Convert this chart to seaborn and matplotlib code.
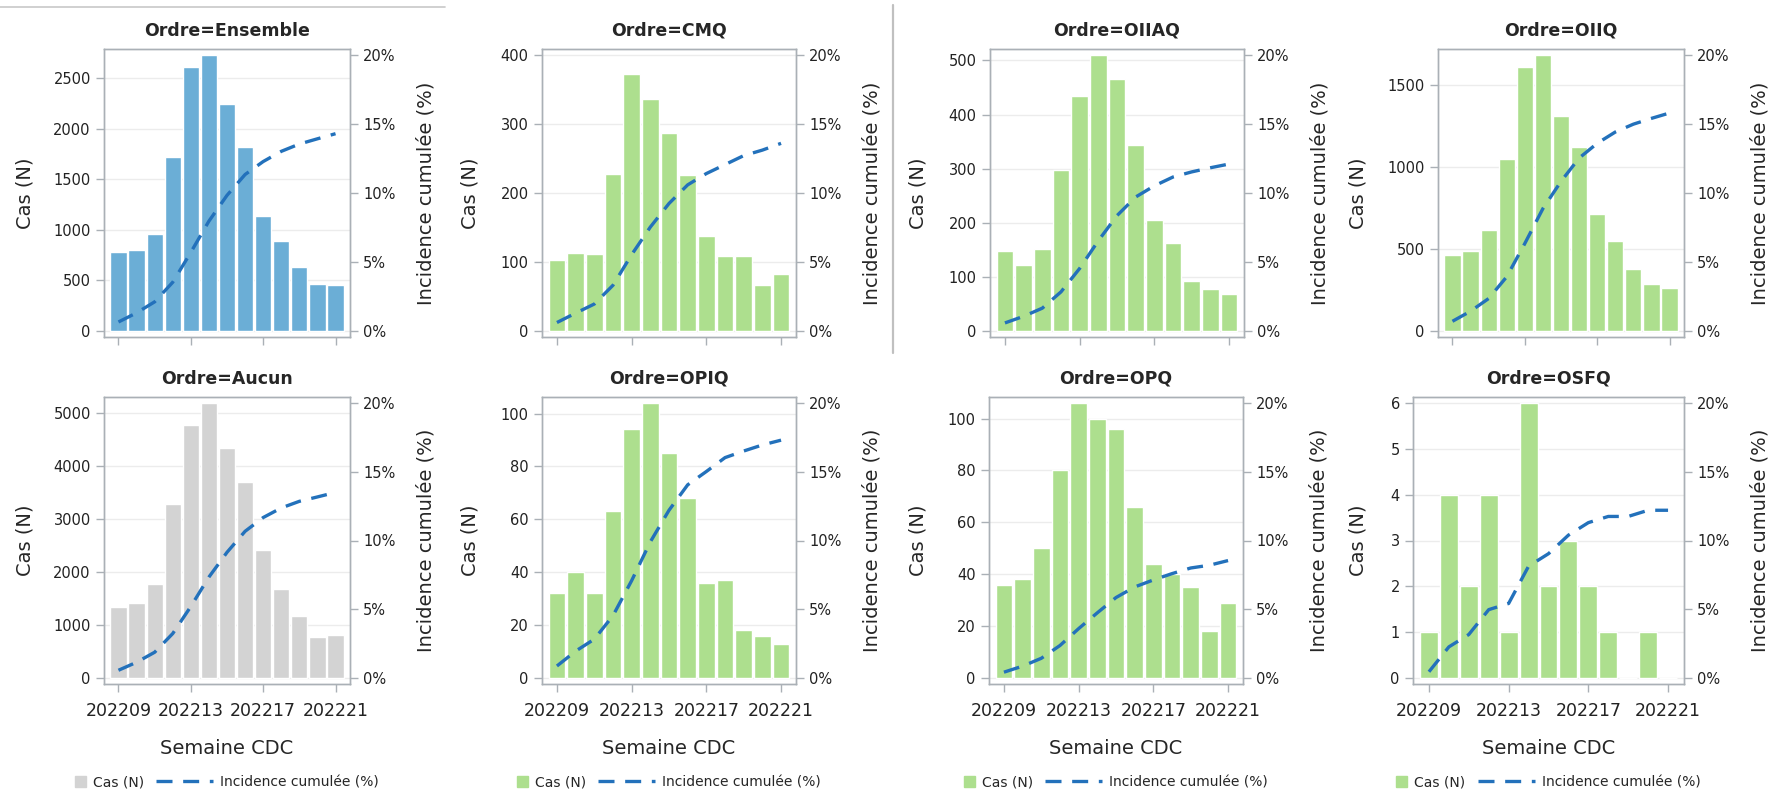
import numpy as np
import matplotlib
matplotlib.use("Agg")
import matplotlib.pyplot as plt
import matplotlib.patches as mpatches
from matplotlib.lines import Line2D
from matplotlib.legend_handler import HandlerPatch
from matplotlib.ticker import MultipleLocator, FuncFormatter
import seaborn as sns

# Data
weeks = ["202209", "202210", "202211", "202212", "202213", "202214", "202215",
         "202216", "202217", "202218", "202219", "202220", "202221"]
ordres = ["Ensemble", "CMQ", "OIIAQ", "OIIQ", "Aucun", "OPIQ", "OPQ", "OSFQ"]

cas_ensemble = [780, 800, 960, 1720, 2610, 2730, 2250, 1820, 1140, 890, 630, 460, 450]
inc_ensemble = [0.65, 1.31, 2.11, 3.53, 5.70, 7.96, 9.83, 11.34, 12.28, 13.02, 13.55, 13.93, 14.3]
cas_cmq = [103, 113, 111, 228, 373, 336, 287, 226, 138, 109, 108, 67, 83]
inc_cmq = [0.61, 1.29, 1.95, 3.31, 5.53, 7.53, 9.24, 10.59, 11.41, 12.06, 12.71, 13.11, 13.6]
cas_oiiaq = [148, 122, 151, 298, 434, 510, 465, 343, 206, 163, 93, 77, 68]
inc_oiiaq = [0.58, 1.06, 1.65, 2.83, 4.53, 6.54, 8.36, 9.71, 10.52, 11.16, 11.53, 11.83, 12.1]
cas_oiiq = [462, 487, 612, 1047, 1605, 1680, 1310, 1118, 715, 545, 375, 283, 260]
inc_oiiq = [0.70, 1.43, 2.35, 3.93, 6.34, 8.87, 10.84, 12.53, 13.60, 14.42, 14.99, 15.41, 15.8]
cas_aucun = [1345, 1410, 1770, 3270, 4760, 5180, 4340, 3700, 2410, 1680, 1160, 770, 810]
inc_aucun = [0.56, 1.14, 1.87, 3.23, 5.20, 7.34, 9.14, 10.67, 11.67, 12.37, 12.85, 13.17, 13.5]
cas_opiq = [32, 40, 32, 63, 94, 104, 85, 68, 36, 37, 18, 16, 13]
inc_opiq = [0.87, 1.95, 2.82, 4.53, 7.08, 9.90, 12.20, 14.05, 15.02, 16.03, 16.51, 16.95, 17.3]
cas_opq = [36, 38, 50, 80, 106, 100, 96, 66, 44, 40, 35, 18, 29]
inc_opq = [0.42, 0.86, 1.43, 2.36, 3.59, 4.74, 5.85, 6.62, 7.13, 7.59, 8.0, 8.2, 8.54]
cas_osfq = [1, 4, 2, 4, 1, 6, 2, 3, 2, 1, 0, 1, 0]
inc_osfq = [0.45, 2.26, 3.16, 4.97, 5.42, 8.13, 9.04, 10.39, 11.3, 11.75, 11.75, 12.2, 12.2]

cas = [cas_ensemble, cas_cmq, cas_oiiaq, cas_oiiq, cas_aucun, cas_opiq, cas_opq, cas_osfq]
inc = [inc_ensemble, inc_cmq, inc_oiiaq, inc_oiiq, inc_aucun, inc_opiq, inc_opq, inc_osfq]
y_top = [2730, 400, 510, 1680, 5180, 104, 106, 6]
y_step = [500, 100, 100, 500, 1000, 20, 20, 1]

# Styling
blue = "#6baed6"
green = "#addf8e"
grey = "#d3d3d3"
bar_colors = [blue, green, green, green, grey, green, green, green]
line_color = "#2371bb"
frame_color = "#aab0b6"
dash = (4.8, 3.2)

sns.set_style("white")
plt.rcParams["font.family"] = ["DejaVu Sans"]

W, H = 1786, 793
fig = plt.figure(figsize=(W / 100, H / 100), dpi=100)

# panel frames in pixels (left, right) per row, and (top, bottom) per row
cols_px = [[(104, 350), (542, 796), (990, 1244), (1438, 1684)],
           [(104, 350), (542, 796), (989, 1243), (1413, 1684)]]
rows_px = [(49, 337), (397, 684)]
ylab_x = [25, 470, 918, 1358]


def square_patch(legend, orig_handle, xdescent, ydescent, width, height, fontsize):
    s = height * 1.15
    return mpatches.Rectangle((-xdescent + width - s, -ydescent + (height - s) / 2), s, s)


for i, name in enumerate(ordres):
    row, col = divmod(i, 4)
    x0, x1 = cols_px[row][col]
    yt, yb = rows_px[row]
    ax = fig.add_axes([x0 / W, 1 - yb / H, (x1 - x0) / W, (yb - yt) / H])

    sns.barplot(x=weeks, y=cas[i], color=bar_colors[i], saturation=1, width=0.9, ax=ax)
    ax.set_xlim(-0.8, 12.8)
    ax.set_ylim(-0.022 * y_top[i], 1.022 * y_top[i])
    ax.yaxis.set_major_locator(MultipleLocator(y_step[i]))
    ax.grid(axis="y", color="#ececec", lw=1)
    ax.grid(axis="x", visible=False)
    ax.set_axisbelow(True)
    ax.set_xticks([0, 4, 8, 12])
    ax.set_xticklabels([weeks[0], weeks[4], weeks[8], weeks[12]])

    ax2 = ax.twinx()
    sns.lineplot(x=np.arange(len(weeks)), y=inc[i], ax=ax2, color=line_color, lw=2.4)
    ax2.get_lines()[0].set_dashes(dash)
    ax2.set_ylim(-0.44, 20.44)
    ax2.set_yticks([0, 5, 10, 15, 20])
    ax2.yaxis.set_major_formatter(FuncFormatter(lambda v, p: f"{v:.0f}%"))
    ax2.set_xlim(-0.8, 12.8)

    for a in (ax, ax2):
        for sp in a.spines.values():
            sp.set_color(frame_color)
            sp.set_linewidth(1)
    ax.tick_params(axis="y", left=True, direction="out", length=6, width=1,
                   color=frame_color, labelsize=10.5, labelcolor="#222222")
    ax.tick_params(axis="x", bottom=True, direction="out", length=6, width=1,
                   color=frame_color, labelsize=12.5, labelcolor="#222222", pad=7,
                   labelbottom=(row == 1))
    ax2.tick_params(axis="y", right=True, direction="out", length=6, width=1,
                    color=frame_color, labelsize=10.5, labelcolor="#222222")

    ax.set_title(f"Ordre={name}", fontsize=12.5, fontweight="bold", pad=9.5)

    ax.set_ylabel("Cas (N)", fontsize=14)
    ax.yaxis.set_label_coords((ylab_x[col] - x0) / (x1 - x0), 0.5)
    ax.yaxis.label.set_va("center")
    ax2.set_ylabel("Incidence cumulée (%)", fontsize=14)
    ax2.yaxis.set_label_coords(1 + 76 / (x1 - x0), 0.5)
    ax2.yaxis.label.set_va("center")

    if row == 1:
        ax.set_xlabel("Semaine CDC", fontsize=14)
        ax.xaxis.set_label_coords(0.5, -(748 - yb) / (yb - yt))
        ax.xaxis.label.set_va("center")
        handles = [mpatches.Patch(color=bar_colors[i], label="Cas (N)"),
                   Line2D([], [], color=line_color, lw=2.4, dashes=dash,
                          label="Incidence cumulée (%)")]
        fig.legend(handles=handles, loc="center", ncol=2, frameon=False,
                   fontsize=10, handlelength=4.1, columnspacing=0.9, handletextpad=0.5,
                   bbox_to_anchor=(((x0 + x1) / 2 - 23) / W, 1 - 782 / H),
                   handler_map={mpatches.Patch: HandlerPatch(patch_func=square_patch)})
    else:
        ax.set_xlabel("")

# separator lines seen in the reference layout
fig.add_artist(Line2D([0, 445 / W], [1 - 7 / H, 1 - 7 / H], color="#c8c8c8", lw=1.2))
fig.add_artist(Line2D([893 / W, 893 / W], [1 - 5 / H, 1 - 353 / H], color="#c0c0c0", lw=1.6))

fig.savefig("out.png", dpi=100)
